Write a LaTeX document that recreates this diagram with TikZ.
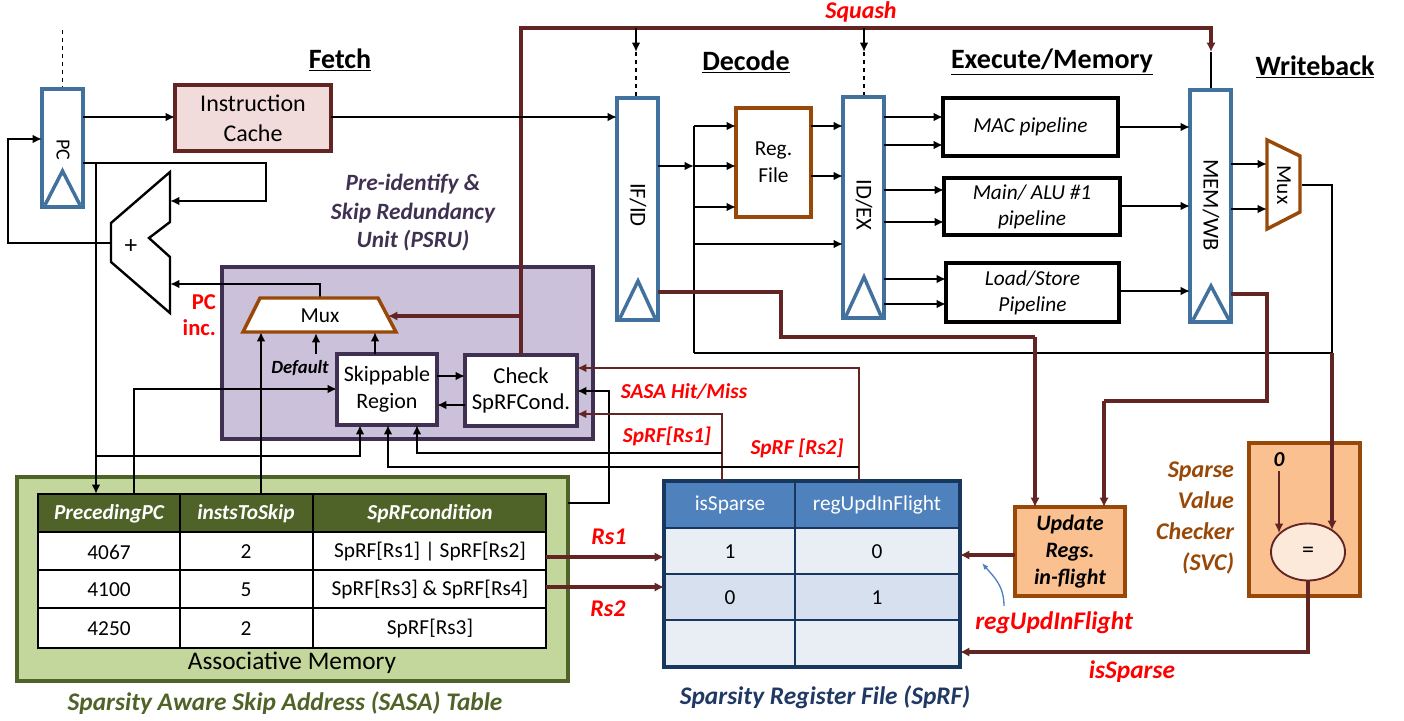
\documentclass[tikz,border=0pt]{standalone}
\usepackage{fontspec}
\setmainfont{Carlito}
\usetikzlibrary{arrows.meta,calc,shapes.geometric}
\definecolor{regblue}{RGB}{65,113,156}
\definecolor{brn}{RGB}{99,37,35}
\definecolor{psrufill}{RGB}{204,193,218}
\definecolor{psruline}{RGB}{64,49,82}
\definecolor{sgreen}{RGB}{195,214,155}
\definecolor{dgreen}{RGB}{79,98,40}
\definecolor{orfill}{RGB}{250,192,144}
\definecolor{orline}{RGB}{152,72,7}
\definecolor{icfill}{RGB}{242,220,219}
\definecolor{sphead}{RGB}{79,129,189}
\definecolor{spline}{RGB}{23,55,94}
\definecolor{sprowa}{RGB}{233,237,244}
\definecolor{sprowb}{RGB}{214,224,238}
\definecolor{eqfill}{RGB}{253,233,217}
\definecolor{spnavy}{RGB}{31,56,100}
\newcommand\fsz[2]{\fontsize{#1}{#2}\selectfont}
\begin{document}
\begin{tikzpicture}[x=0.75pt,y=-0.75pt,
  wh/.style 2 args={minimum width=#1*0.75pt,minimum height=#2*0.75pt},
  every node/.style={inner sep=0pt,outer sep=0pt},
  reg/.style={draw=regblue,line width=2.8pt,fill=white},
  tri/.style={draw=regblue,line width=2.6pt},
  pbox/.style={draw=black,line width=2.5pt,fill=white,align=center,font=\fsz{16}{19.5}\itshape},
  ubox/.style={draw=psruline,line width=2.5pt,fill=white,align=center,font=\fsz{16.5}{20}},
  wire/.style={line width=1.8pt},
  arr/.style={wire,-{Latex[length=7pt,width=6.5pt]}},
  bwire/.style={draw=brn,line width=2.8pt},
  barr/.style={bwire,-{Latex[length=7pt,width=7pt]}},
  tbarr/.style={draw=brn,line width=1.7pt,-{Latex[length=7pt,width=6.5pt]}},
  hdr/.style={font=\fsz{21}{25}\bfseries},
  redlbl/.style={text=red,font=\fsz{16}{19}\bfseries\itshape},
  regtxt/.style={rotate=-90,font=\fsz{16}{19}},
  tcell/.style={font=\fsz{16}{19}},
  thead/.style={text=white,font=\fsz{16}{19}\bfseries\itshape}
]
\useasboundingbox (0,0) rectangle (1404,721);

% ---------- headers ----------
\node[hdr] (hfetch) at (340,60) {\underline{Fetch}};
\node[hdr] (hdecode) at (746,62) {\underline{Decode}};
\node[hdr] (hexec) at (1052,62) {\underline{Execute/Memory}};
\node[hdr] (hwb) at (1315,67) {\underline{Writeback}};
\node[redlbl,font=\fsz{18}{21}\bfseries\itshape] (lsquash) at (861,12) {Squash};

% ---------- background boxes ----------
\node[draw=psruline,fill=psrufill,line width=3pt,wh={371}{172}] (psru) at (407.5,353) {};
\node[text=psruline,align=center,font=\fsz{17.5}{21.4}\bfseries\itshape] (psrut) at (413,213) {Pre-identify \&\\Skip Redundancy\\Unit (PSRU)};
\node[draw=dgreen,fill=sgreen,line width=3pt,wh={551}{204}] (sasa) at (292.5,579) {};

% ---------- SASA table ----------
\fill[dgreen] (38,494) rectangle (546,532);
\fill[white] (38,532) rectangle (546,648);
\draw[line width=1.8pt] (38,494) rectangle (546,648);
\draw[line width=1.5pt] (38,532) -- (546,532) (38,570) -- (546,570) (38,608) -- (546,608)
  (180,494) -- (180,648) (313,494) -- (313,648);
\node[thead] (th1) at (109,514) {PrecedingPC};
\node[thead] (th2) at (246,514) {instsToSkip};
\node[thead] (th3) at (430,514) {SpRFcondition};
\node[tcell] (c11) at (109,552) {4067};
\node[tcell] (c12) at (246,552) {2};
\node[tcell] (c13) at (430,552) {SpRF[Rs1] | SpRF[Rs2]};
\node[tcell] (c21) at (109,590) {4100};
\node[tcell] (c22) at (246,590) {5};
\node[tcell] (c23) at (430,590) {SpRF[Rs3] \& SpRF[Rs4]};
\node[tcell] (c31) at (109,629) {4250};
\node[tcell] (c32) at (246,629) {2};
\node[tcell] (c33) at (430,629) {SpRF[Rs3]};
\node[font=\fsz{19}{23}] (assoc) at (292,663) {Associative Memory};
\node[text=dgreen,font=\fsz{19}{22}\bfseries\itshape] (sasat) at (285,703) {Sparsity Aware Skip Address (SASA) Table};

% ---------- SpRF table ----------
\node[wh={296}{186}] (sprf) at (812,574) {};
\fill[sphead] (664,481) rectangle (960,528);
\fill[sprowa] (664,528) rectangle (960,574);
\fill[sprowb] (664,574) rectangle (960,620);
\fill[sprowa] (664,620) rectangle (960,667);
\draw[spline,line width=1.5pt] (664,528) -- (960,528) (664,574) -- (960,574) (664,620) -- (960,620) (795,481) -- (795,667);
\draw[spline,line width=3pt] (664,481) rectangle (960,667);
\node[text=white,font=\fsz{16}{19}] (sh1) at (730,505) {isSparse};
\node[text=white,font=\fsz{16}{19}] (sh2) at (877,505) {regUpdInFlight};
\node[tcell] (s11) at (730,552) {1};
\node[tcell] (s12) at (877,552) {0};
\node[tcell] (s21) at (730,598) {0};
\node[tcell] (s22) at (877,598) {1};
\node[text=spnavy,font=\fsz{19}{22}\bfseries\itshape] (sprft) at (825,697) {Sparsity Register File (SpRF)};

% ---------- Fetch ----------
\draw[dashed,line width=1pt] (62.5,30) -- (62.5,89);
\node[reg,wh={41}{118}] (pc) at (62.5,148) {};
\draw[tri] (45,205) -- (62.5,171) -- (80,205);
\node[regtxt,font=\fsz{15}{17}] (pct) at (63,150) {PC};
\node[draw=brn,fill=icfill,line width=2.8pt,wh={156}{66},align=center,font=\fsz{18}{22.5}] (ic) at (253,118) {Instruction\\Cache};

\draw[arr] (pc.east |- 0,117) -- (ic.west |- 0,117);
\draw[arr] (pc.east |- 0,163) -- (266,163) -- (266,201) -- (170,201);
\draw[arr] (111,243) -- (8,243) |- (pc.west |- 0,139);
\draw[arr] (96,163) -- (96,494);
\draw[arr] (96,456) -| (360,425);

% adder
\draw[line width=1.8pt,fill=white] (170,172) -- (170,222) -- (149,238) -- (170,257) -- (170,313) -- (111,262) -- (111,223) -- cycle;
\node[font=\fsz{19}{21}] (adder) at (131,247) {+};
\node[text=red,align=right,anchor=east,font=\fsz{17}{19.5}\bfseries] (pcinc) at (216,315) {PC\\inc.};

% ---------- PSRU internals ----------
\draw[arr] (134,494) |- (337,389);
\draw[arr] (261,494) -- (261,332);
\draw[arr] (316,354) -- (316,333);
\node[font=\fsz{14}{16}\bfseries\itshape] (ldef) at (300,368) {Default};
\draw[arr] (320,298) |- (170,284);
\draw[orline,line width=2.6pt,fill=white] (260,298) -- (378,298) -- (396,332) -- (243,332) -- cycle;
\node[font=\fsz{16}{19}] (pmux) at (320,316) {Mux};
\node[ubox,wh={100}{71}] (skip) at (387,389.5) {Skippable\\Region};
\node[ubox,wh={112}{71},font=\fsz{17}{20}] (chk) at (521,390.5) {Check\\SpRFCond.};
\draw[arr] (skip.north -| 375,0) -- (375,332);
\draw[arr] (skip.east |- 0,376) -- (chk.west |- 0,376);
\draw[arr] (chk.west |- 0,405) -- (skip.east |- 0,405);

% squash
\draw[barr] (chk.north) |- (1211,28) -- (1211,52);
\draw[barr] (521,316) -- (388,316);
\draw[line width=0.9pt] (1211,52) -- (1211,90);
\draw[arr] (636,28) -- (636,52);
\draw[dashed,line width=1pt] (636,52) -- (636,98);
\draw[arr] (864,28) -- (864,52);
\draw[dashed,line width=1pt] (864,52) -- (864,97);

% signals into Check / Skippable
\draw[arr] (568,503) -- (609,503) -- (609,391) -- (chk.east |- 0,391);
\draw[tbarr] (722,481) -- (722,414) -- (chk.east |- 0,414);
\draw[tbarr] (859,481) -- (859,368) -- (chk.east |- 0,368);
\draw[arr] (722,453) -| (417,425);
\draw[arr] (859,467) -| (388,425);
\node[redlbl] (lhit) at (684,392) {SASA Hit/Miss};
\node[redlbl] (lrs1s) at (667,436) {SpRF[Rs1]};
\node[redlbl] (lrs2s) at (797,448) {SpRF [Rs2]};

% ---------- Decode ----------
\node[reg,wh={41}{222}] (ifid) at (637.5,209) {};
\draw[tri] (620,318) -- (638,281) -- (655,318);
\node[regtxt,font=\fsz{17}{20}] (ifidt) at (638,205) {IF/ID};
\draw[arr] (ic.east |- 0,117) -- (ifid.west |- 0,117);
\node[draw=orline,fill=white,line width=2.8pt,wh={75}{109},align=center,font=\fsz{16}{20}] (rf) at (773.5,162.5) {Reg.\\File};
\node[reg,wh={41}{221}] (idex) at (863.5,207.5) {};
\draw[tri] (846,316) -- (864,277) -- (881,316);
\node[regtxt,font=\fsz{17}{20}] (idext) at (864,205) {ID/EX};

\draw[arr] (ifid.east |- 0,166) -- (694,166);
\draw[wire] (694,126) -- (694,353);
\draw[arr] (694,126) -- (rf.west |- 0,126);
\draw[arr] (694,166) -- (rf.west |- 0,166);
\draw[arr] (694,207) -- (rf.west |- 0,207);
\draw[arr] (694,244) -- (idex.west |- 0,244);
\draw[arr] (rf.east |- 0,126) -- (idex.west |- 0,126);
\draw[arr] (rf.east |- 0,176) -- (idex.west |- 0,176);

% ---------- Execute ----------
\node[pbox,wh={175}{58}] (mac) at (1030.5,127) {MAC pipeline};
\node[pbox,wh={176}{57}] (alu) at (1032,206.5) {Main/ ALU \#1\\pipeline};
\node[pbox,wh={173}{59}] (ls) at (1032.5,292.5) {Load/Store\\Pipeline};
\draw[arr] (idex.east |- 0,117) -- (mac.west |- 0,117);
\draw[arr] (idex.east |- 0,145) -- (mac.west |- 0,145);
\draw[arr] (idex.east |- 0,190) -- (alu.west |- 0,190);
\draw[arr] (idex.east |- 0,222) -- (alu.west |- 0,222);
\draw[arr] (idex.east |- 0,279) -- (ls.west |- 0,279);
\draw[arr] (idex.east |- 0,304) -- (ls.west |- 0,304);

\node[reg,wh={41}{232}] (mw) at (1210.5,206) {};
\draw[tri] (1193,320) -- (1211,286) -- (1229,320);
\node[regtxt,font=\fsz{17}{20}] (mwt) at (1211,205) {MEM/WB};
\draw[arr] (mac.east |- 0,127) -- (mw.west |- 0,127);
\draw[arr] (alu.east |- 0,206) -- (mw.west |- 0,206);
\draw[arr] (ls.east |- 0,291) -- (mw.west |- 0,291);

% ---------- Writeback ----------
\draw[orline,line width=2.6pt,fill=white] (1267,140) -- (1300,156) -- (1300,212) -- (1267,229) -- cycle;
\node[regtxt,font=\fsz{16}{19}] (wbmux) at (1284,185) {Mux};
\draw[arr] (mw.east |- 0,164) -- (1267,164);
\draw[arr] (mw.east |- 0,209) -- (1267,209);
\draw[wire] (1302,185) -- (1332,185) -- (1332,353) -- (694,353);

% ---------- Update Regs / SVC ----------
\node[draw=orline,fill=orfill,line width=2.8pt,wh={110}{89},align=center,font=\fsz{16.5}{20}\bfseries\itshape] (upd) at (1070,551.5) {Update\\Regs.\\in-flight};
\node[draw=orline,fill=orfill,line width=2.8pt,wh={111}{153}] (svc) at (1304.5,519.5) {};
\node[ellipse,draw=brn,fill=eqfill,line width=1.4pt,wh={74}{57},font=\fsz{18}{20}] (eq) at (1308,552) {=};
\node[font=\fsz{16}{18}\bfseries\itshape] (zero) at (1279,460) {0};
\node[text=orline,align=right,anchor=east,font=\fsz{18}{23.2}\bfseries\itshape] (svct) at (1234,518) {Sparse\\Value\\Checker\\(SVC)};

\draw[bwire] (ifid.east |- 0,292) -- (781,292) -- (781,337) -- (1035,337);
\draw[barr] (1035,337) -- (upd.north -| 1035,0);
\draw[bwire] (mw.east |- 0,294) -- (1267,294) -- (1267,401) -- (1104,401);
\draw[barr] (1104,401) -- (upd.north -| 1104,0);
\draw[barr] (1332,353) -- (1332,530);
\draw[tbarr] (zero.south) ++(0,4) -- (1279,533);
\draw[barr] (upd.west |- 0,555) -- (sprf.east |- 0,555);
\draw[barr] (eq.south -| 1308,0) -- (1308,652) -- (sprf.east |- 0,652);
\draw[-{Latex[length=5pt,width=4pt]},draw=sphead,line width=1pt] (1004,606) .. controls (1004,585) and (993,576) .. (982,563);
\node[redlbl,font=\fsz{19}{22}\bfseries\itshape] (lrupd) at (1054,623) {regUpdInFlight};
\node[redlbl,font=\fsz{19}{22}\bfseries\itshape] (liss) at (1132,672) {isSparse};

% ---------- Rs1 / Rs2 ----------
\draw[barr] (546,557) -- (sprf.west |- 0,557);
\draw[barr] (546,587) -- (sprf.west |- 0,587);
\node[redlbl,font=\fsz{18}{21}\bfseries\itshape] (lrs1) at (609,537) {Rs1};
\node[redlbl,font=\fsz{18}{21}\bfseries\itshape] (lrs2) at (608,609) {Rs2};
\end{tikzpicture}
\end{document}
